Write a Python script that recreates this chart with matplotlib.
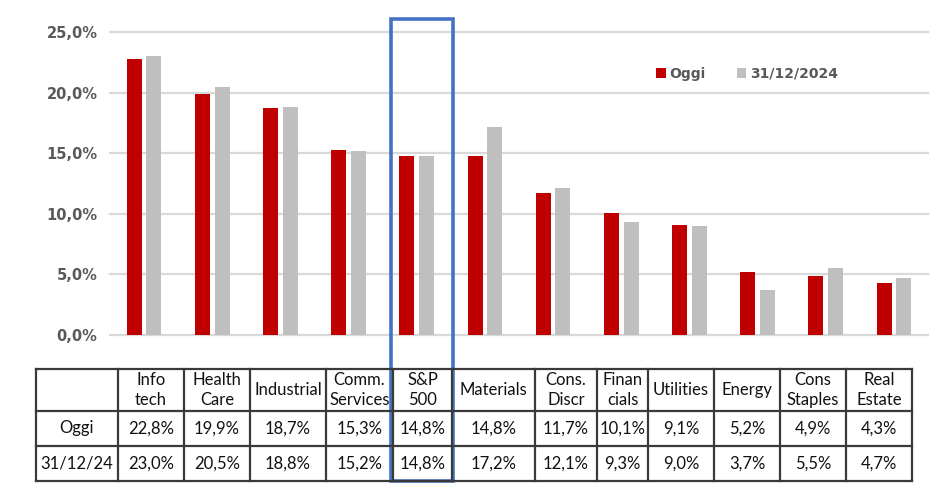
import matplotlib.pyplot as plt
import numpy as np

# data
sectors = ["Info\ntech", "Health\nCare", "Industrial", "Comm.\nServices", "S&P\n500",
           "Materials", "Cons.\nDiscr", "Finan\ncials", "Utilities", "Energy",
           "Cons\nStaples", "Real\nEstate"]
oggi = [22.8, 19.9, 18.7, 15.3, 14.8, 14.8, 11.7, 10.1, 9.1, 5.2, 4.9, 4.3]
fine_2024 = [23.0, 20.5, 18.8, 15.2, 14.8, 17.2, 12.1, 9.3, 9.0, 3.7, 5.5, 4.7]
series_names = ["Oggi", "31/12/2024"]
row_names = ["Oggi", "31/12/24"]
y_ticks = [0, 5, 10, 15, 20, 25]

RED = "#C00000"
GREY = "#BFBFBF"
TXT = "#595959"
W, H = 949, 492

fig = plt.figure(figsize=(W / 100, H / 100), dpi=100)

# bar chart
ax = fig.add_axes([110 / W, 1 - 335 / H, 818 / W, 303 / H])
x = np.arange(len(sectors))
bw = 0.22
ax.bar(x - 0.145, oggi, bw, color=RED, label=series_names[0], zorder=3)
ax.bar(x + 0.145, fine_2024, bw, color=GREY, label=series_names[1], zorder=3)
ax.set_xlim(-0.5, len(sectors) - 0.5)
ax.set_ylim(0, 25)
ax.set_yticks(y_ticks)
ax.set_yticklabels([f"{v:.1f}%".replace(".", ",") for v in y_ticks],
                   fontsize=10.5, fontweight="bold", color=TXT)
ax.tick_params(axis="y", length=0, pad=9)
ax.set_xticks([])
for s in ax.spines.values():
    s.set_visible(False)
for v in y_ticks:
    ax.axhline(v, color="#D9D9D9", linewidth=1.6, zorder=0, clip_on=False)
leg = ax.legend(loc="upper left", bbox_to_anchor=(0.652, 0.926), ncol=2, frameon=False,
                handlelength=0.7, handleheight=0.7, handletextpad=0.3, columnspacing=2.2,
                prop={"weight": "bold", "size": 10})
for t in leg.get_texts():
    t.set_color(TXT)

# overlay in pixel coordinates for table and highlight box
ov = fig.add_axes([0, 0, 1, 1], zorder=5)
ov.set_xlim(0, W)
ov.set_ylim(H, 0)
ov.axis("off")
ov.patch.set_alpha(0)

cols = [36, 118, 184, 250, 326, 393, 452, 535, 597, 648, 714, 780, 846, 912]
rows = [369, 411, 446, 481]
lc = "#3A3A3A"
for cx in cols:
    ov.plot([cx, cx], [rows[0], rows[-1]], color=lc, lw=1.6, solid_capstyle="projecting")
for ry in rows:
    ov.plot([cols[0], cols[-1]], [ry, ry], color=lc, lw=1.6, solid_capstyle="projecting")

tfont = dict(family="Lato", fontsize=12, color="#111111", ha="center", va="center")
for i, name in enumerate(sectors):
    cx = (cols[i + 1] + cols[i + 2]) / 2
    ov.text(cx, (rows[0] + rows[1]) / 2, name, linespacing=1.25, **tfont)
    ov.text(cx, (rows[1] + rows[2]) / 2, f"{oggi[i]:.1f}%".replace(".", ","), **tfont)
    ov.text(cx, (rows[2] + rows[3]) / 2, f"{fine_2024[i]:.1f}%".replace(".", ","), **tfont)
for j, rn in enumerate(row_names):
    ov.text((cols[0] + cols[1]) / 2, (rows[j + 1] + rows[j + 2]) / 2, rn, **tfont)

# highlight box around S&P 500
ov.add_patch(plt.Rectangle((391, 19), 62, 462, fill=False, edgecolor="#4472C4", lw=2.6))

fig.savefig("out.png", dpi=100)
